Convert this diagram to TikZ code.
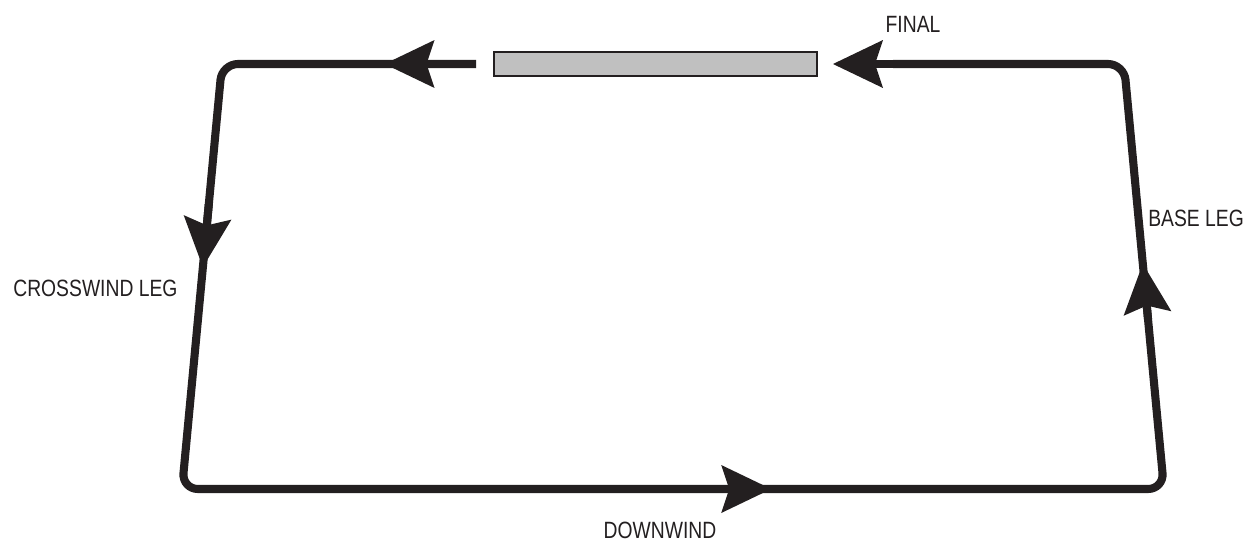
\documentclass[tikz,border=0pt]{standalone}
\usepackage{fontspec}
\setmainfont[FakeStretch=0.82]{Liberation Sans}
\usetikzlibrary{arrows.meta, calc}
\definecolor{pathblack}{RGB}{35,31,32}
\definecolor{runwaygray}{RGB}{192,192,192}

\begin{document}
\begin{tikzpicture}[x=0.02cm, y=-0.02cm,
  leg/.style={draw=pathblack, line width=4.6pt},
  dir/.style={leg, -{Stealth[length=1.0cm, width=0.96cm, inset=0.16cm, line width=0pt]}},
  lbl/.style={font=\fontsize{13.4}{15}\selectfont, text=pathblack, inner sep=0pt}]
  \useasboundingbox (0,0) rectangle (1257,544);
  % corners of the circuit
  \coordinate (tl) at (222,64);
  \coordinate (bl) at (182,489);
  \coordinate (br) at (1164,489);
  \coordinate (tr) at (1124,64);
  \coordinate (rwyend) at (476,64);
  \coordinate (finaltip) at (833,64);
  % runway
  \node[draw=pathblack, line width=1pt, fill=runwaygray, minimum width=6.46cm,
        minimum height=0.48cm, inner sep=0pt] (runway) at (655.5,64) {};
  % circuit
  \draw[leg, rounded corners=0.32cm] (rwyend) -- (tl) -- (bl) -- (br) -- (tr)
    -- ($(finaltip)+(60,0)$);
  % direction arrows
  \draw[dir] ($(rwyend)!0.15!(tl)$) -- ($(rwyend)!0.36!(tl)$);
  \draw[dir] ($(tl)!0.33!(bl)$) -- ($(tl)!0.478!(bl)$);
  \draw[dir] ($(bl)!0.5!(br)$) -- ($(bl)!0.6!(br)$);
  \draw[dir] ($(br)!0.4!(tr)$) -- ($(br)!0.53!(tr)$);
  \draw[dir] ($(finaltip)+(80,0)$) -- (finaltip);
  % labels
  \node[lbl, anchor=west] (crosswind) at (13,288) {CROSSWIND LEG};
  \node[lbl, anchor=west] (base) at (1148,218) {BASE LEG};
  \node[lbl] (downwind) at (660,530) {DOWNWIND};
  \node[lbl] (final) at (913,24) {FINAL};
\end{tikzpicture}
\end{document}
